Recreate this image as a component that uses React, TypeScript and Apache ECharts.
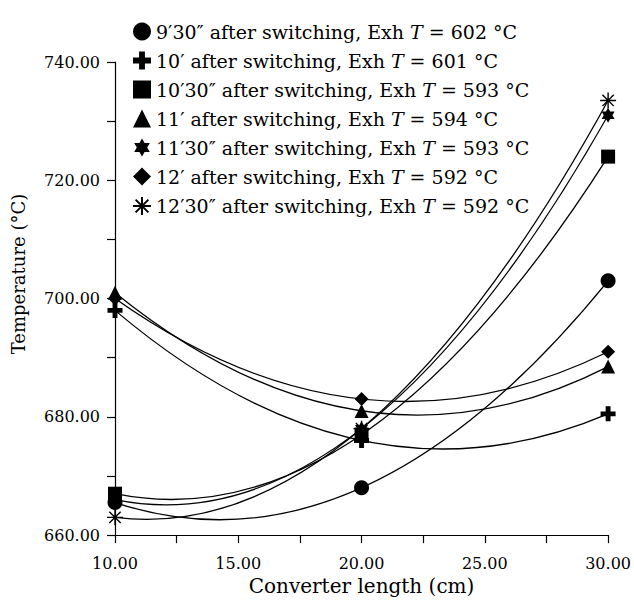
import React, { useEffect, useRef } from "react";
import * as echarts from "echarts";

const xValues = [10, 20, 30];
const seriesNames = [
  "9′30″ after switching, Exh T = 602 °C",
  "10′ after switching, Exh T = 601 °C",
  "10′30″ after switching, Exh T = 593 °C",
  "11′ after switching, Exh T = 594 °C",
  "11′30″ after switching, Exh T = 593 °C",
  "12′ after switching, Exh T = 592 °C",
  "12′30″ after switching, Exh T = 592 °C",
];
const s930 = [665.5, 668, 703];
const s10 = [698, 676, 680.5];
const s1030 = [667, 677, 724];
const s11 = [701, 681, 688.5];
const s1130 = [666, 678, 731];
const s12 = [700, 683, 691];
const s1230 = [663, 678, 733.5];
const allValues = [s930, s10, s1030, s11, s1130, s12, s1230];

const xTicks = [10, 15, 20, 25, 30];
const yTicks = [660, 680, 700, 720, 740];

const PLUS = "path://M-2.6 -8 H2.6 V-2.6 H8 V2.6 H2.6 V8 H-2.6 V2.6 H-8 V-2.6 H-2.6 Z";
const STAR6 =
  "path://M0 -10 L2.89 -5 L8.66 -5 L5.77 0 L8.66 5 L2.89 5 L0 10 L-2.89 5 L-8.66 5 L-5.77 0 L-8.66 -5 L-2.89 -5 Z";
const ASTER =
  "path://M0 -9 L0 9 M-9 0 L9 0 M-6.4 -6.4 L6.4 6.4 M-6.4 6.4 L6.4 -6.4";

const symbols = ["circle", PLUS, "rect", "triangle", STAR6, "diamond", ASTER];
const sizes = [15, 15, 14, 14, 15, 14, 16];

const FONT = "'DejaVu Serif', serif";

export default function App() {
  const ref = useRef<HTMLDivElement>(null);
  useEffect(() => {
    if (!ref.current) return;
    const chart = echarts.init(ref.current, undefined, { renderer: "svg" });

    const scatterSeries = allValues.map((vals, i) => {
      const isAster = i === 6;
      return {
        name: seriesNames[i],
        type: "scatter",
        symbol: symbols[i],
        symbolSize: sizes[i],
        symbolKeepAspect: true,
        z: 5,
        itemStyle: isAster
          ? { color: "rgba(0,0,0,0)", borderColor: "#000", borderWidth: 1.4, opacity: 1 }
          : { color: "#000", opacity: 1 },
        data: vals.map((v, j) => [xValues[j], v]),
      };
    });

    const curveSeries = allValues.map((vals) => ({
      type: "custom",
      silent: true,
      z: 2,
      clip: false,
      encode: { x: [0, 2, 4], y: [1, 3, 5] },
      data: [[xValues[0], vals[0], xValues[1], vals[1], xValues[2], vals[2]]],
      renderItem: (params: any, api: any) => {
        const p0 = api.coord([api.value(0), api.value(1)]);
        const p1 = api.coord([api.value(2), api.value(3)]);
        const p2 = api.coord([api.value(4), api.value(5)]);
        const cx = 2 * p1[0] - (p0[0] + p2[0]) / 2;
        const cy = 2 * p1[1] - (p0[1] + p2[1]) / 2;
        return {
          type: "bezierCurve",
          shape: { x1: p0[0], y1: p0[1], x2: p2[0], y2: p2[1], cpx1: cx, cpy1: cy },
          style: { stroke: "#000", fill: "none", lineWidth: 1.3 },
        };
      },
    }));

    const option: any = {
      animation: false,
      backgroundColor: "#fff",
      legend: {
        data: seriesNames,
        orient: "vertical",
        left: 132,
        top: 22,
        padding: 0,
        itemWidth: 18,
        itemHeight: 18,
        itemGap: 10,
        selectedMode: false,
        formatter: (name: string) => {
          const parts = name.split("T =");
          return `{n|${parts[0]}}{i|T}{n| =${parts[1]}}`;
        },
        textStyle: {
          color: "#000",
          fontFamily: FONT,
          fontSize: 19,
          rich: {
            n: { fontFamily: FONT, fontSize: 19, color: "#000" },
            i: { fontFamily: FONT, fontSize: 19, color: "#000", fontStyle: "italic" },
          },
        },
      },
      grid: { left: 115, right: 19, top: 62, bottom: 56, containLabel: false },
      xAxis: {
        type: "value",
        min: 10,
        max: 30,
        interval: 5,
        name: "Converter length (cm)",
        nameLocation: "middle",
        nameGap: 38,
        nameTextStyle: { color: "#000", fontFamily: FONT, fontSize: 20 },
        axisLine: { show: true, lineStyle: { color: "#000", width: 1.2 } },
        axisTick: { show: true, inside: false, length: 8, lineStyle: { color: "#000", width: 1.2 } },
        minorTick: { show: true, splitNumber: 2, length: 8, lineStyle: { color: "#000", width: 1.2 } },
        splitLine: { show: false },
        axisLabel: {
          color: "#000",
          fontFamily: FONT,
          fontSize: 16,
          margin: 20,
          formatter: (v: number) => (xTicks.includes(v) ? v.toFixed(2) : ""),
        },
      },
      yAxis: {
        type: "value",
        min: 660,
        max: 740,
        interval: 20,
        axisLine: { show: true, lineStyle: { color: "#000", width: 1.2 } },
        axisTick: { show: true, inside: false, length: 8, lineStyle: { color: "#000", width: 1.2 } },
        minorTick: { show: true, splitNumber: 2, length: 8, lineStyle: { color: "#000", width: 1.2 } },
        splitLine: { show: false },
        axisLabel: {
          color: "#000",
          fontFamily: FONT,
          fontSize: 16,
          margin: 15,
          formatter: (v: number) => (yTicks.includes(v) ? v.toFixed(2) : ""),
        },
      },
      graphic: [
        {
          type: "text",
          x: 18,
          y: 274,
          rotation: Math.PI / 2,
          style: {
            text: "Temperature (°C)",
            fontFamily: FONT,
            fontSize: 18,
            fill: "#000",
            align: "center",
            verticalAlign: "middle",
          },
        },
      ],
      series: [...curveSeries, ...scatterSeries],
    };
    chart.setOption(option);
    return () => chart.dispose();
  }, []);
  return (
    <div
      ref={ref}
      style={{ position: "fixed", left: 0, top: 0, width: 634, height: 601 }}
    />
  );
}
